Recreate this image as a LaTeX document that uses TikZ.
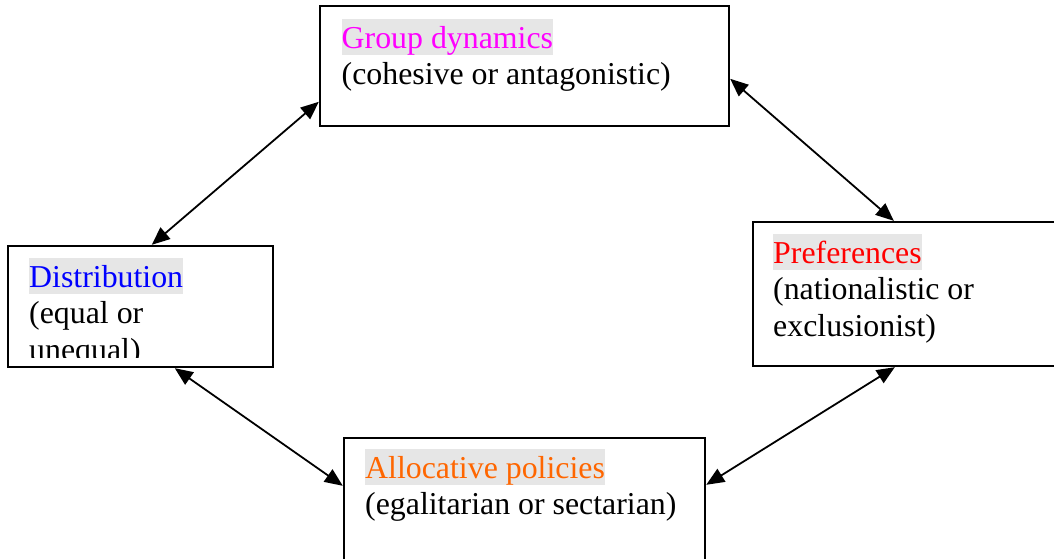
\documentclass[tikz,border=0pt]{standalone}
\usepackage{fontspec}
\setmainfont{Liberation Serif}
\usetikzlibrary{arrows.meta}
\definecolor{hl}{HTML}{E6E6E6}
\definecolor{orangeT}{HTML}{FF6600}
\definecolor{magentaT}{HTML}{FF00FF}
\definecolor{blueT}{HTML}{0000FF}
\definecolor{redT}{HTML}{FF0000}
\tikzset{
  box/.style={draw=black, line width=2.4pt, fill=white, inner sep=0pt},
  title/.style={anchor=base west, fill=hl, inner sep=0pt, text height=29pt, text depth=7pt, font=\fontsize{31.85}{36.5}\selectfont},
  body/.style={anchor=base west, inner sep=0pt, font=\fontsize{31.85}{36.5}\selectfont},
  link/.style={line width=1.8pt, {Triangle[length=18pt,width=15pt]}-{Triangle[length=18pt,width=15pt]}}
}
\begin{document}
\begin{tikzpicture}[x=1pt,y=-1pt]
\useasboundingbox (0,0) rectangle (1054,558);
\clip (0,0) rectangle (1054,558);
% boxes
\node[box, minimum width=409pt, minimum height=120pt] (group) at (524.5,66) {};
\node[box, minimum width=265pt, minimum height=121pt] (dist) at (140.5,306.5) {};
\node[box, minimum width=313pt, minimum height=144pt] (pref) at (909.5,294) {};
\node[box, minimum width=361pt, minimum height=123pt] (alloc) at (524.5,499.5) {};
% texts
\node[title, text=magentaT] (gt) at (341.5,48) {Group dynamics};
\node[body] (gb) at (341.5,84.5) {(cohesive or antagonistic)};
\begin{scope}
\clip (10,248) rectangle (271,357);
\node[title, text=blueT] (dt) at (29,287) {Distribution};
\node[body] (db1) at (29,323.5) {(equal or};
\node[body] (db2) at (29,360) {unequal)};
\end{scope}
\node[title, text=redT] (pt) at (773,263) {Preferences};
\node[body] (pb1) at (773,299.5) {(nationalistic or};
\node[body] (pb2) at (773,336) {exclusionist)};
\node[title, text=orangeT] (at) at (365,478) {Allocative policies};
\node[body] (ab) at (365,514.5) {(egalitarian or sectarian)};
% connectors
\draw[link] ([xshift=145pt]dist.north west) -- ([yshift=-97pt]group.north west);
\draw[link] ([yshift=-74pt]group.north east) -- ([xshift=142pt]pref.north west);
\draw[link] ([xshift=168pt]dist.south west) -- ([yshift=-49pt]alloc.north west);
\draw[link] ([xshift=143pt]pref.south west) -- ([yshift=-48pt]alloc.north east);
\end{tikzpicture}
\end{document}
